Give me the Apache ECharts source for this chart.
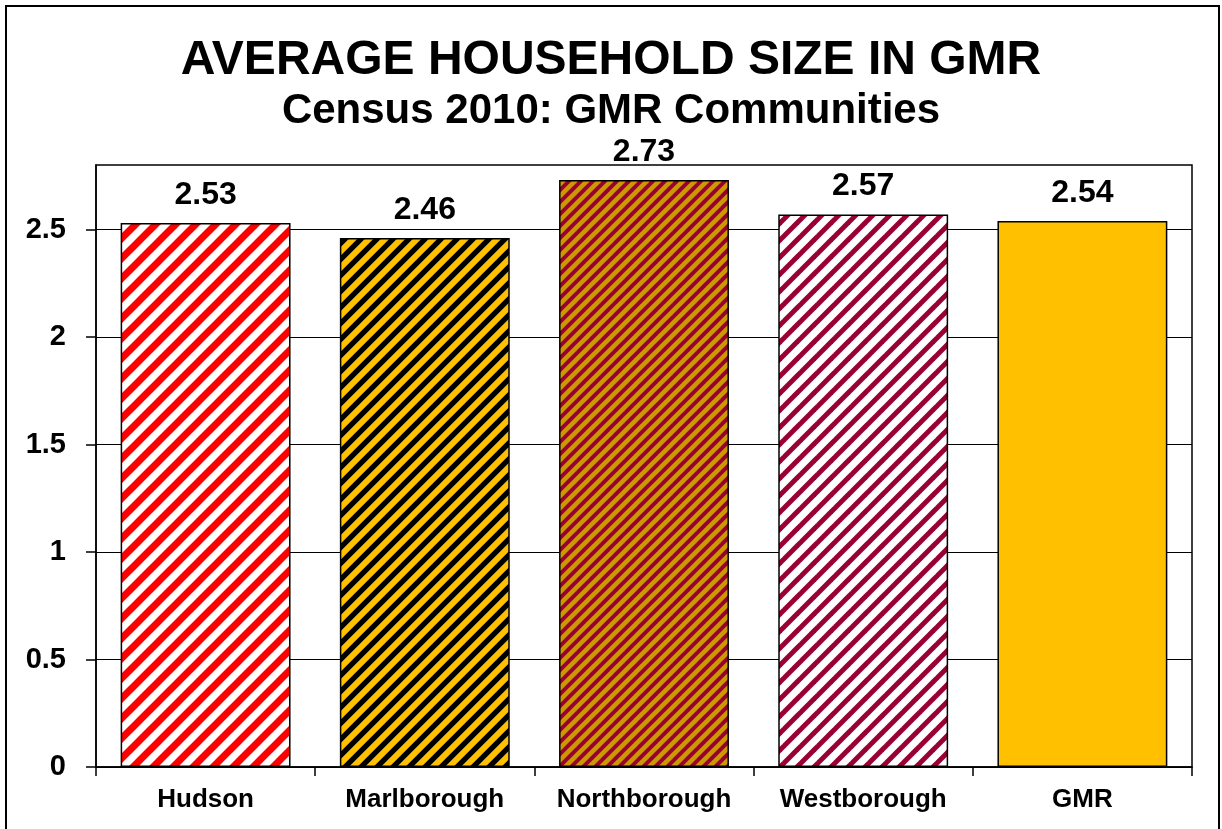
<!DOCTYPE html>
<html>
<head>
<meta charset="utf-8">
<script src="https://cdn.jsdelivr.net/npm/echarts@6/dist/echarts.min.js"></script>
<style>
  html,body{margin:0;padding:0;background:#fff;}
  #chart{width:1222px;height:829px;}
</style>
</head>
<body>
<div id="chart"></div>
<script>
  // 数据
  var categories=["Hudson","Marlborough","Northborough","Westborough","GMR"];
  var values=[2.53,2.46,2.73,2.57,2.54];
  var yTicks=[0,0.5,1,1.5,2,2.5];
  var titleText="AVERAGE HOUSEHOLD SIZE IN GMR";
  var subText="Census 2010: GMR Communities";

  // 斜线填充
  var stripe=function(bg,fg,size,width){
    var c=document.createElement("canvas");
    c.width=size;
    c.height=size;
    var ctx=c.getContext("2d");
    ctx.fillStyle=bg;
    ctx.fillRect(0,0,size,size);
    ctx.strokeStyle=fg;
    ctx.lineWidth=width;
    for(var k=-1;k<=1;k++){
      ctx.beginPath();
      ctx.moveTo(k*size-size,2*size);
      ctx.lineTo(k*size+2*size,-size);
      ctx.stroke();
    }
    return {image:c,repeat:"repeat"};
  }
  var fills=[
    stripe("#ffffff","#ff0000",20,7),
    stripe("#000000","#ffc000",16,6),
    stripe("#990033","#cc9900",12,4.5),
    stripe("#ffffff","#990033",17,5),
    "#ffc000"
  ];

  var font="Liberation Sans, Arial";
  var chart=echarts.init(document.getElementById("chart"));
  chart.setOption({
    animation:false,
    title:[
      {text:titleText,left:"center",top:32,
        textStyle:{fontFamily:font,fontWeight:"bold",fontSize:48,color:"#000"}},
      {text:subText,left:"center",top:85,
        textStyle:{fontFamily:font,fontWeight:"bold",fontSize:42,color:"#000"}}
    ],
    graphic:[
      {type:"rect",shape:{x:6,y:6,width:1213,height:840},
        style:{fill:"none",stroke:"#000",lineWidth:2},silent:true}
    ],
    grid:{left:96,right:30,top:165,bottom:62,show:true,borderColor:"#000",borderWidth:1.5},
    xAxis:{
      type:"category",
      data:categories,
      axisLine:{lineStyle:{color:"#000",width:1.5}},
      axisTick:{show:true,interval:0,length:9,lineStyle:{color:"#000",width:1.5}},
      axisLabel:{interval:0,fontFamily:font,fontWeight:"bold",fontSize:26,color:"#000",margin:20}
    },
    yAxis:{
      type:"value",
      min:0,
      max:2.8,
      interval:0.5,
      axisLine:{show:true,lineStyle:{color:"#000",width:1.5}},
      axisTick:{show:true,length:10,customValues:yTicks,lineStyle:{color:"#000",width:1.5}},
      splitLine:{lineStyle:{color:"#000",width:1}},
      axisLabel:{
        fontFamily:font,fontWeight:"bold",fontSize:29,color:"#000",margin:30,
        customValues:yTicks
      }
    },
    series:[
      {
        type:"bar",
        barCategoryGap:"22.5%",
        data:values.map(function(v,i){
          return {value:v,itemStyle:{color:fills[i]}};
        }),
        itemStyle:{borderColor:"#000",borderWidth:1.5},
        label:{
          show:true,position:"top",distance:12,
          fontFamily:font,fontWeight:"bold",fontSize:32,color:"#000",
          formatter:function(p){return p.value.toFixed(2);}
        }
      }
    ]
  });
</script>
</body>
</html>
